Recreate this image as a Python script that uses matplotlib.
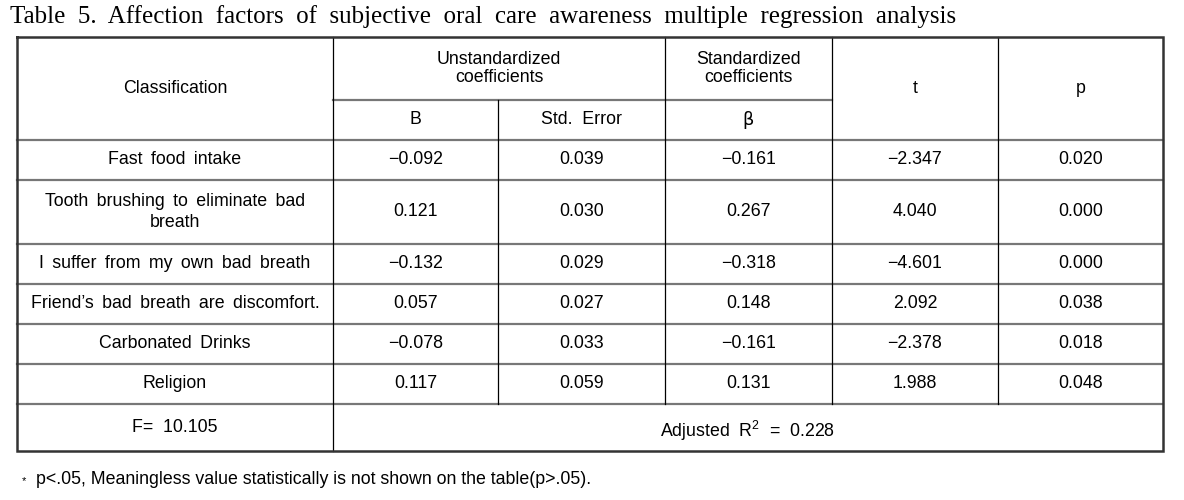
"""Table 5: multiple regression on subjective oral care awareness."""
import matplotlib
matplotlib.use('Agg')
import matplotlib.pyplot as plt

SANS = ['Liberation Sans', 'DejaVu Sans']
SERIF = ['Liberation Serif', 'DejaVu Serif']
plt.rcParams.update({'font.family': SANS, 'mathtext.fontset': 'custom',
                     'mathtext.rm': 'Liberation Sans', 'mathtext.it': 'Liberation Sans'})

# ---- data -------------------------------------------------------------
title = 'Table 5. Affection factors of subjective oral care awareness multiple regression analysis'
variables = ['Fast food intake',
             'Tooth brushing to eliminate bad\nbreath',
             'I suffer from my own bad breath',
             'Friend\u2019s bad breath are discomfort.',
             'Carbonated Drinks',
             'Religion']
B = [-0.092, 0.121, -0.132, 0.057, -0.078, 0.117]
std_err = [0.039, 0.030, 0.029, 0.027, 0.033, 0.059]
beta = [-0.161, 0.267, -0.318, 0.148, -0.161, 0.131]
t_val = [-2.347, 4.040, -4.601, 2.092, -2.378, 1.988]
p_val = [0.020, 0.000, 0.000, 0.038, 0.018, 0.048]
F_stat = 10.105
adj_r2 = 0.228
footnote = 'p<.05, Meaningless value statistically is not shown on the table(p>.05).'

# ---- layout (pixels) --------------------------------------------------
W, H = 1184, 500
col_x = [17, 333, 498, 665, 832, 998, 1163]
row_y = [140, 180, 244, 284, 324, 364, 404, 451]
top, mid = 37, 100

fig = plt.figure(figsize=(W / 100, H / 100), dpi=100)
ax = fig.add_axes([0, 0, 1, 1])
ax.set_xlim(0, W)
ax.set_ylim(H, 0)
ax.axis('off')

GRAY = '#777777'
FS = 12.8


def sp(s, gap=' \u2009'):
    # slightly wider word spacing, as in the original typesetting
    return s.replace(' ', gap)


def fmt(v):
    s = f'{abs(v):.3f}'
    return ('\u2212' + s) if v < 0 else s


def cx(i):
    return (col_x[i] + col_x[i + 1]) / 2


# horizontal lines
ax.plot([col_x[1], col_x[4]], [mid, mid], color=GRAY, lw=1.6)
for y in row_y[:-1]:
    ax.plot([col_x[0], col_x[-1]], [y, y], color=GRAY, lw=1.6)
# vertical lines
for x in col_x[1:-1]:
    y0 = top if x in (col_x[1], col_x[3], col_x[4], col_x[5]) else mid
    y1 = row_y[-2] if x != col_x[1] else row_y[-1]
    ax.plot([x, x], [y0, y1], color='black', lw=0.9)
# outer border
ax.plot([col_x[0], col_x[-1], col_x[-1], col_x[0], col_x[0]],
        [top, top, row_y[-1], row_y[-1], top], color='#333333', lw=1.8,
        solid_joinstyle='miter')

# title
ax.text(10, 17, sp(title, '  '), family=SERIF, fontsize=18, va='center', ha='left')

# header
ax.text(cx(0), (top + row_y[0]) / 2, 'Classification', fontsize=FS, ha='center', va='center')
ax.text((col_x[1] + col_x[3]) / 2, (top + mid) / 2, 'Unstandardized\ncoefficients',
        fontsize=FS, ha='center', va='center', linespacing=1.05)
ax.text(cx(3), (top + mid) / 2, 'Standardized\ncoefficients',
        fontsize=FS, ha='center', va='center', linespacing=1.05)
ax.text(cx(1), (mid + row_y[0]) / 2, 'B', fontsize=FS, ha='center', va='center')
ax.text(cx(2), (mid + row_y[0]) / 2, 'Std.  Error', fontsize=FS, ha='center', va='center')
ax.text(cx(3), (mid + row_y[0]) / 2, '\u03b2', fontsize=FS, ha='center', va='center',
        family='DejaVu Sans')
ax.text(cx(4), (top + row_y[0]) / 2, 't', fontsize=FS, ha='center', va='center')
ax.text(cx(5), (top + row_y[0]) / 2, 'p', fontsize=FS, ha='center', va='center')

# body
for i, name in enumerate(variables):
    yc = (row_y[i] + row_y[i + 1]) / 2
    ax.text(cx(0), yc, sp(name), fontsize=FS, ha='center', va='center', linespacing=1.25)
    for j, col in enumerate([B, std_err, beta, t_val, p_val]):
        ax.text(cx(j + 1), yc, fmt(col[i]), fontsize=FS, ha='center', va='center')

# F / R2 row
yc = (row_y[-2] + row_y[-1]) / 2
ax.text(cx(0), yc, f'F=  {F_stat:.3f}', fontsize=FS, ha='center', va='center')
ax.text((col_x[1] + col_x[-1]) / 2, yc + 3, f'Adjusted  R$^{{2}}$  =  {adj_r2:.3f}',
        fontsize=FS, ha='center', va='center')

# footnote
ax.text(22, 481, '*', fontsize=8, ha='left', va='center')
ax.text(36, 479, footnote, fontsize=FS, ha='left', va='center')

fig.savefig('out.png', dpi=100, facecolor='white')
